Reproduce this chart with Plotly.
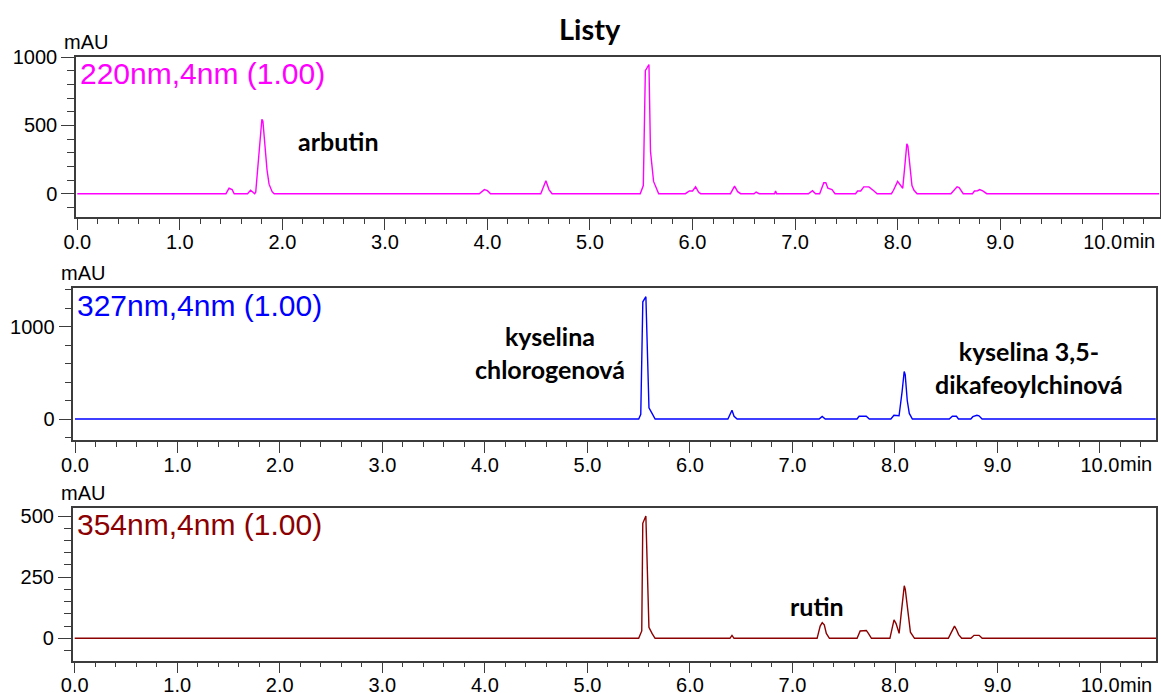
import plotly.graph_objects as go

# ---------------- data ----------------
t220 = [0.0, 1.45, 1.48, 1.51, 1.53, 1.66, 1.69, 1.71, 1.73, 1.74, 1.80, 1.81, 1.85, 1.87, 1.90, 1.92,
        3.92, 3.97, 4.00, 4.03, 4.52, 4.57, 4.60, 4.63,
        5.49, 5.52, 5.54, 5.575, 5.59, 5.62, 5.67,
        5.93, 5.97, 6.00, 6.03, 6.06, 6.08,
        6.37, 6.41, 6.44, 6.47, 6.60, 6.62, 6.65, 6.80, 6.81, 6.82,
        7.13, 7.17, 7.20, 7.24, 7.28, 7.30, 7.32, 7.36, 7.39,
        7.59, 7.61, 7.64, 7.67, 7.72, 7.77, 7.80,
        7.94, 7.96, 8.00, 8.02, 8.05, 8.07, 8.09, 8.10, 8.12, 8.14, 8.16, 8.19,
        8.52, 8.58, 8.60, 8.64, 8.73, 8.75, 8.78, 8.80, 8.83, 8.87, 10.55]
a220 = [0, 0, 40, 30, 0, 0, 25, 15, 0, 10, 545, 530, 175, 70, 15, 0,
        0, 30, 22, 0, 0, 95, 30, 0,
        0, 60, 900, 945, 310, 90, 0,
        0, 20, 20, 50, 10, 0,
        0, 55, 15, 0, 0, 12, 0, 0, 20, 0,
        0, 22, 0, 0, 80, 80, 40, 30, 0,
        0, 20, 20, 50, 50, 20, 0,
        0, 25, 90, 70, 40, 200, 365, 350, 200, 60, 25, 0,
        0, 50, 45, 0, 0, 20, 22, 30, 20, 0, 0]

t327 = [0.0, 5.50, 5.52, 5.54, 5.57, 5.59, 5.60, 5.63, 5.66,
        6.37, 6.41, 6.43, 6.46,
        7.26, 7.29, 7.32, 7.63, 7.65, 7.72, 7.75,
        7.96, 7.99, 8.02, 8.04, 8.07, 8.09, 8.10, 8.12, 8.14, 8.17,
        8.53, 8.56, 8.60, 8.62, 8.74, 8.76, 8.80, 8.82, 8.85, 10.55]
a327 = [0, 0, 50, 1270, 1325, 300, 120, 60, 0,
        0, 95, 30, 0,
        0, 28, 0, 0, 30, 30, 0,
        0, 40, 40, 35, 300, 515, 480, 200, 60, 0,
        0, 30, 30, 0, 0, 25, 40, 35, 0, 0]

t354 = [0.0, 5.50, 5.53, 5.54, 5.57, 5.59, 5.60, 5.63, 5.66,
        6.39, 6.41, 6.43,
        7.24, 7.27, 7.29, 7.31, 7.33, 7.36,
        7.63, 7.66, 7.72, 7.74, 7.77,
        7.95, 7.97, 7.99, 8.01, 8.04, 8.06, 8.09, 8.10, 8.13, 8.15, 8.19,
        8.52, 8.55, 8.58, 8.60, 8.62, 8.65,
        8.74, 8.77, 8.82, 8.85, 10.55]
a354 = [0, 0, 30, 470, 500, 150, 45, 20, 0,
        0, 12, 0,
        0, 50, 64, 55, 20, 0,
        0, 30, 32, 20, 0,
        0, 40, 75, 60, 20, 100, 215, 200, 95, 25, 0,
        0, 25, 50, 35, 15, 0,
        0, 12, 12, 0, 0]

channel_names = ["220nm,4nm (1.00)", "327nm,4nm (1.00)", "354nm,4nm (1.00)"]
channel_colors = ["#FF00FF", "#0000FF", "#8B0000"]
x_tick_vals = [0, 1, 2, 3, 4, 5, 6, 7, 8, 9, 10]
x_tick_text = ["0.0", "1.0", "2.0", "3.0", "4.0", "5.0", "6.0", "7.0", "8.0", "9.0", "10.0"]
y_tick_vals = [[0, 500, 1000], [0, 1000], [0, 250, 500]]
y_minor_step = [100, 200, 50]

# ---------------- layout geometry ----------------
W, H = 1161, 693
def px_x(p): return p / W
def px_y(p): return 1 - p / H

panels = [
    dict(x0=76, x1=1160, y0=57, y1=217.3, xr=[-0.0127, 10.559], yr=[-172.6, 1000]),
    dict(x0=73.3, x1=1155.7, y0=288.3, y1=440, xr=[-0.0166, 10.544], yr=[-227.5, 1416]),
    dict(x0=72.7, x1=1156, y0=507.7, y1=660.7, xr=[-0.0195, 10.545], yr=[-91.6, 534]),
]

tick_font = dict(family="Liberation Sans, Arial, sans-serif", size=20, color="#000000")
frame_col = "#3c3c3c"

fig = go.Figure()
series = [(t220, a220), (t327, a327), (t354, a354)]
layout = {}
annotations = []
for i, (p, (tx, ay)) in enumerate(zip(panels, series)):
    sfx = "" if i == 0 else str(i + 1)
    fig.add_trace(go.Scatter(x=tx, y=ay, mode="lines", line=dict(color=channel_colors[i], width=1.4),
                             xaxis="x" + sfx, yaxis="y" + sfx, showlegend=False, hoverinfo="skip"))
    layout["xaxis" + sfx] = dict(
        domain=[px_x(p["x0"]), px_x(p["x1"])], range=p["xr"], anchor="y" + sfx, automargin=False,
        showline=True, mirror=True, linecolor=frame_col, linewidth=1.5,
        showgrid=False, zeroline=False,
        tickmode="array", tickvals=x_tick_vals, ticktext=x_tick_text,
        ticks="outside", ticklen=11, tickwidth=1.2, tickcolor=frame_col,
        minor=dict(ticks="outside", dtick=0.2, tick0=0, ticklen=5, tickwidth=1.2, tickcolor=frame_col, showgrid=False),
        tickfont=tick_font, ticklabelstandoff=-5,
    )
    layout["yaxis" + sfx] = dict(
        domain=[px_y(p["y1"]), px_y(p["y0"])], range=p["yr"], anchor="x" + sfx, automargin=False,
        showline=True, mirror=True, linecolor=frame_col, linewidth=1.5,
        showgrid=False, zeroline=False,
        tickmode="array", tickvals=y_tick_vals[i],
        ticks="outside", ticklen=13, tickwidth=1.2, tickcolor=frame_col,
        minor=dict(ticks="outside", dtick=y_minor_step[i], tick0=0, ticklen=7, tickwidth=1.2, tickcolor=frame_col, showgrid=False),
        tickfont=tick_font, ticklabelstandoff=0,
    )
    # channel label
    annotations.append(dict(text=channel_names[i], xref="paper", yref="paper",
                            x=px_x(p["x0"] + 2), y=px_y(p["y0"] + 17), xanchor="left", yanchor="middle",
                            showarrow=False, font=dict(family="Liberation Sans, Arial, sans-serif", size=30,
                                                        color=channel_colors[i])))
    # mAU unit label
    annotations.append(dict(text="mAU", xref="paper", yref="paper",
                            x=px_x(p["x0"] - 14), y=px_y(p["y0"] - 15), xanchor="left", yanchor="middle",
                            showarrow=False, font=dict(family="Liberation Sans, Arial, sans-serif", size=20,
                                                        color="#000000")))
    # 'min' unit after 10.0
    annotations.append(dict(text="min", xref="x" + sfx, yref="paper",
                            x=10.0, y=px_y(p["y1"] + 24), xanchor="left", yanchor="middle", xshift=18,
                            showarrow=False, font=tick_font))

bold_font = dict(family="Lato, Carlito, sans-serif", size=25, color="#000000")
annotations += [
    dict(text="<b>arbutin</b>", xref="paper", yref="paper", x=px_x(338), y=px_y(141),
         xanchor="center", yanchor="middle", showarrow=False, font=bold_font),
    dict(text="<b>kyselina<br>chlorogenová</b>", xref="paper", yref="paper", x=px_x(550), y=px_y(352),
         xanchor="center", yanchor="middle", showarrow=False, font=bold_font),
    dict(text="<b>kyselina 3,5-<br>dikafeoylchinová</b>", xref="paper", yref="paper", x=px_x(1029), y=px_y(367),
         xanchor="center", yanchor="middle", showarrow=False, font=bold_font),
    dict(text="<b>rutin</b>", xref="paper", yref="paper", x=px_x(817), y=px_y(606),
         xanchor="center", yanchor="middle", showarrow=False, font=bold_font),
    dict(text="<b>Listy</b>", xref="paper", yref="paper", x=px_x(590), y=px_y(29),
         xanchor="center", yanchor="middle", showarrow=False,
         font=dict(family="Lato, Carlito, sans-serif", size=29, color="#000000")),
]

fig.update_layout(width=W, height=H, margin=dict(l=0, r=0, t=0, b=0, autoexpand=False),
                  paper_bgcolor="white", plot_bgcolor="white",
                  annotations=annotations, **layout)
fig.write_html("out.html")
